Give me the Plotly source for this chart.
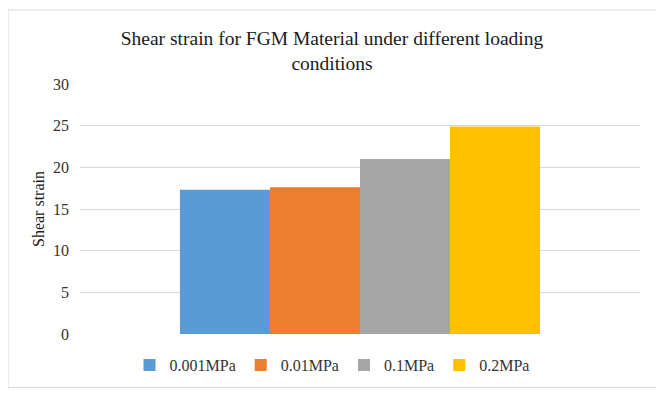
import plotly.graph_objects as go

# Data
categories = ["FGM"]
series_names = ["0.001MPa", "0.01MPa", "0.1MPa", "0.2MPa"]
series_values = [17.3, 17.6, 21.0, 24.9]
series_colors = ["#5B9BD5", "#ED7D31", "#A5A5A5", "#FFC000"]
y_ticks = [0, 5, 10, 15, 20, 25, 30]

FONT = "Liberation Serif, Times New Roman, serif"

fig = go.Figure()
for name, val, col in zip(series_names, series_values, series_colors):
    fig.add_trace(go.Bar(x=categories, y=[val], name=name,
                         marker=dict(color=col, line=dict(width=0))))

# page body has an 8px margin, so the figure is 8px smaller each way
fig.update_layout(
    width=656, height=390,
    margin=dict(l=72, r=24, t=76, b=64),
    paper_bgcolor="white", plot_bgcolor="white",
    barmode="group", bargap=0.357, bargroupgap=0,
    font=dict(family=FONT, size=16, color="#333333"),
    title=dict(text="Shear strain for FGM Material under different loading<br>conditions",
               x=324 / 656, xref="container", y=1 - 37 / 390, yref="container",
               xanchor="center", yanchor="middle",
               font=dict(family=FONT, size=19.5, color="#1a1a1a")),
    legend=dict(orientation="h", x=0.45, xanchor="center", y=-0.124, yanchor="middle",
                font=dict(family=FONT, size=16, color="#333333"),
                itemwidth=30, traceorder="normal"),
    xaxis=dict(showticklabels=False, showgrid=False, zeroline=False, showline=False,
               ticks=""),
    yaxis=dict(range=[0, 30], tickvals=y_ticks, showgrid=True, gridcolor="#d9d9d9",
               gridwidth=1, zeroline=False, showline=False,
               ticklabelstandoff=10,
               tickfont=dict(family=FONT, size=16, color="#333333"),
               title=dict(text="Shear strain", standoff=4,
                          font=dict(family=FONT, size=16, color="#1a1a1a"))),
    shapes=[dict(type="rect", xref="paper", yref="paper",
                 x0=(0 - 72) / 560, x1=(649 - 72) / 560,
                 y0=(326 - 379.5) / 250, y1=(326 - 2) / 250,
                 line=dict(color="#d9d9d9", width=1), fillcolor="rgba(0,0,0,0)",
                 layer="below")],
)

fig.write_html("out.html")
